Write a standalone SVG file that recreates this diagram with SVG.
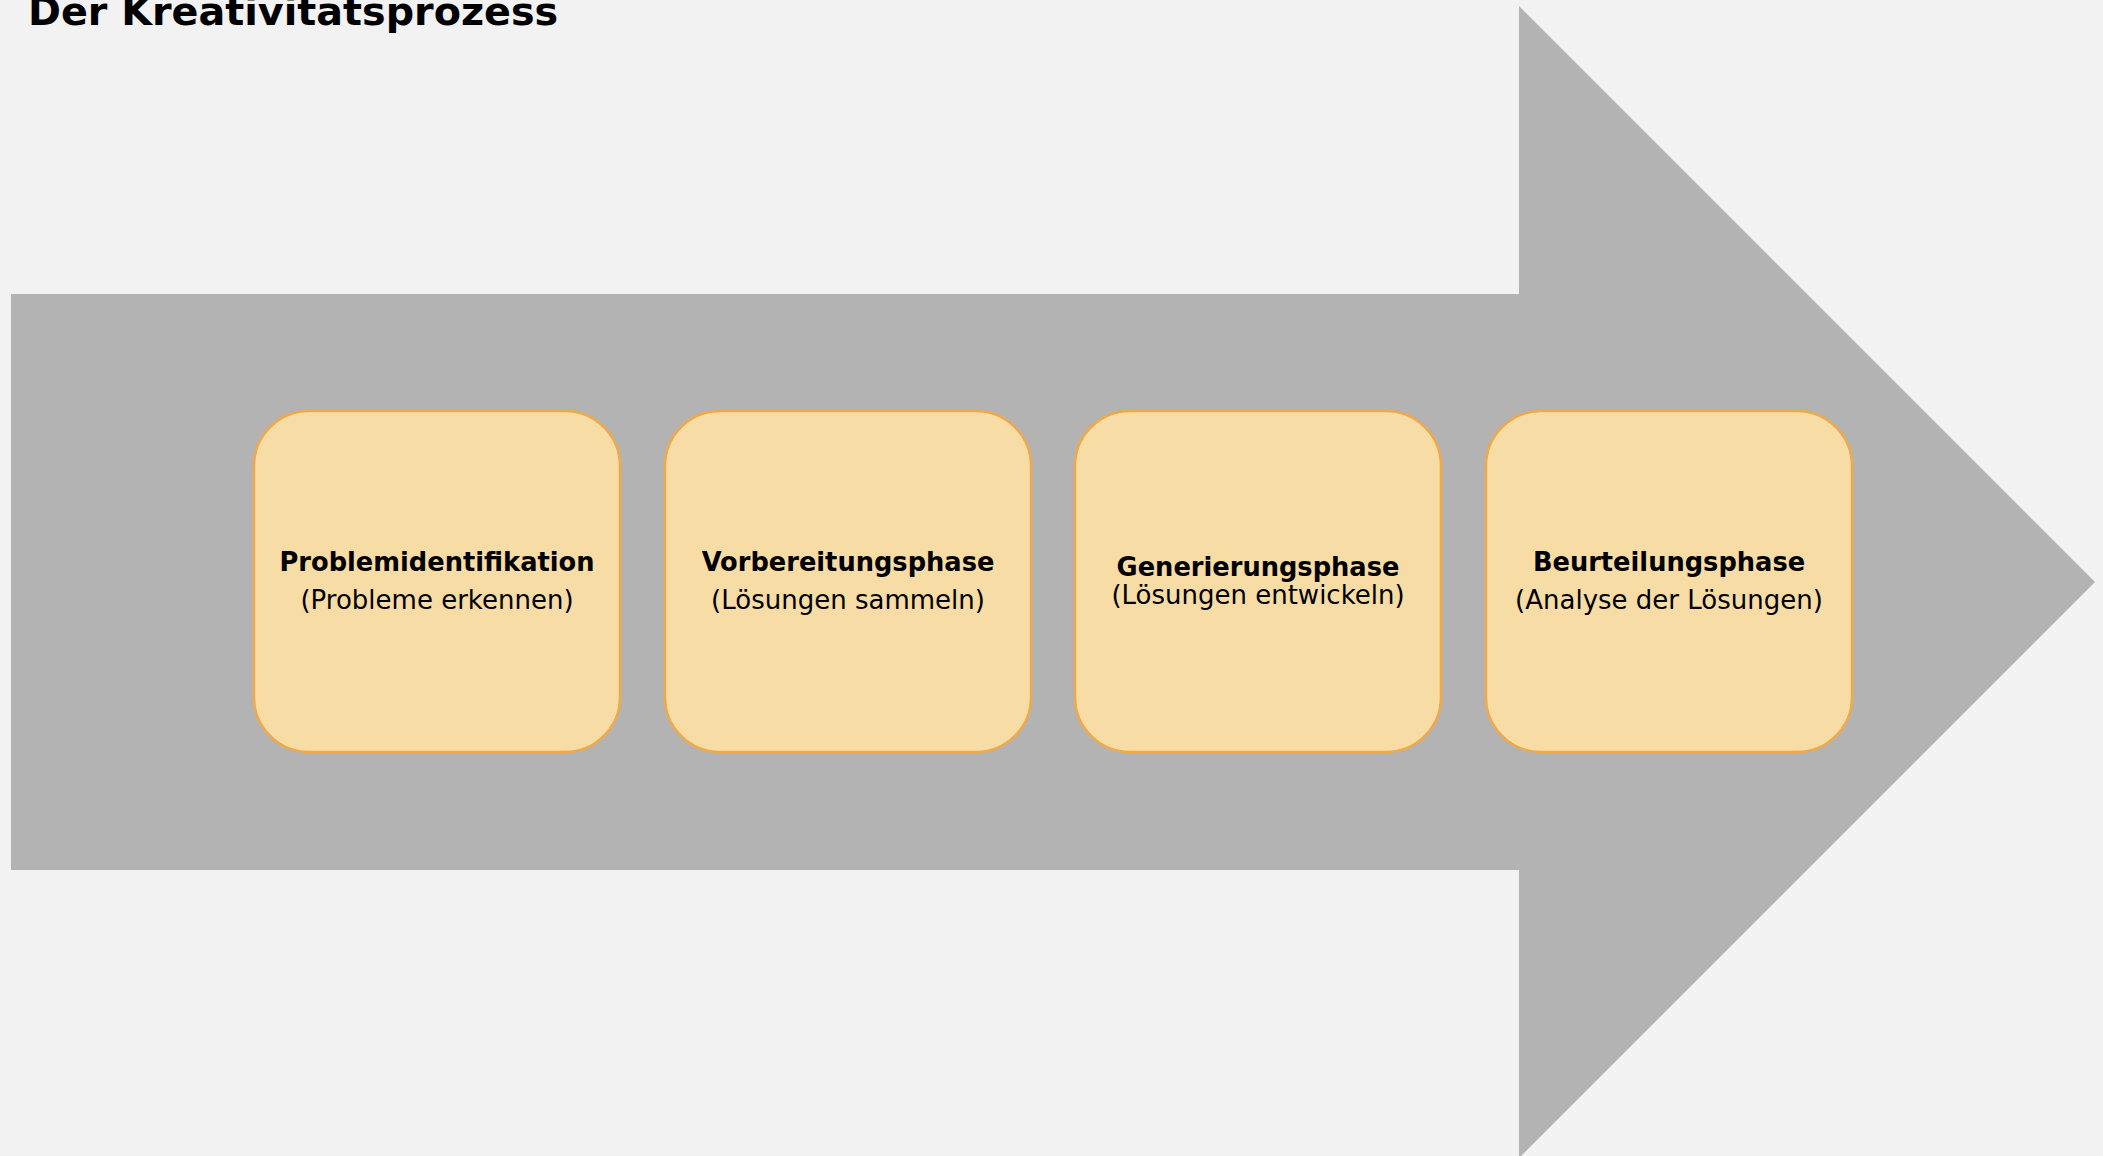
<svg xmlns="http://www.w3.org/2000/svg" width="2103" height="1156" viewBox="0 0 2103 1156">
  <style>
    .phase rect { fill: #f7dca5; stroke: #f0a94a; stroke-width: 2.5; }
    .phase text { font-family: "DejaVu Sans", Verdana, sans-serif; font-size: 26px; fill: #000; text-anchor: middle; }
    .phase .head { font-weight: bold; font-size: 25.7px; }
    .title { font-family: "DejaVu Sans", Verdana, sans-serif; font-weight: bold; font-size: 39.7px; fill: #000; }
  </style>
  <rect width="2103" height="1156" fill="#f2f2f2"/>
  <text class="title" x="28" y="25">Der Kreativitätsprozess</text>

  <!-- big process arrow in the background -->
  <g id="connectors">
    <polygon points="11,294 1519,294 1519,6 2095,582 1519,1158 1519,870 11,870" fill="#b3b3b3"/>
  </g>

  <g id="phase1" class="phase">
    <rect x="254" y="411" width="366" height="341" rx="55" ry="55"/>
    <text class="head" x="437" y="571">Problemidentifikation</text>
    <text x="437" y="609">(Probleme erkennen)</text>
  </g>
  <g id="phase2" class="phase">
    <rect x="665" y="411" width="366" height="341" rx="55" ry="55"/>
    <text class="head" x="848" y="571">Vorbereitungsphase</text>
    <text x="848" y="609">(Lösungen sammeln)</text>
  </g>
  <g id="phase3" class="phase">
    <rect x="1075" y="411" width="366" height="341" rx="55" ry="55"/>
    <text class="head" x="1258" y="576">Generierungsphase</text>
    <text x="1258" y="604">(Lösungen entwickeln)</text>
  </g>
  <g id="phase4" class="phase">
    <rect x="1486" y="411" width="366" height="341" rx="55" ry="55"/>
    <text class="head" x="1669" y="571">Beurteilungsphase</text>
    <text x="1669" y="609">(Analyse der Lösungen)</text>
  </g>
</svg>
